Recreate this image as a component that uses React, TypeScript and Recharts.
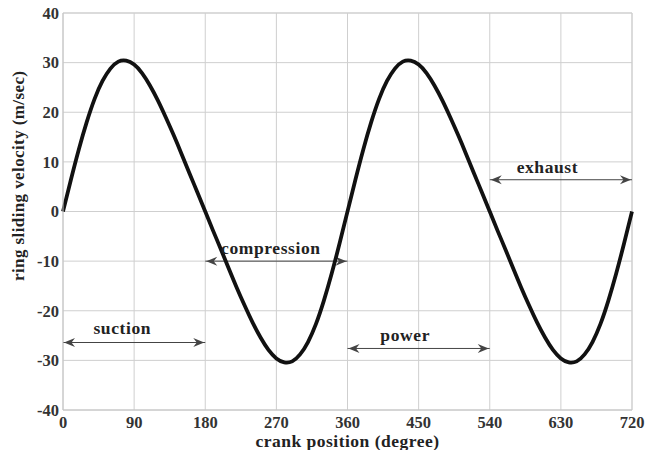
import React from 'react';
import { LineChart, Line, XAxis, YAxis, CartesianGrid, ReferenceLine, ReferenceDot } from 'recharts';

const crankAngles = [
  0, 10, 20, 30, 40, 50, 60, 70, 80, 90, 100, 110, 120, 130, 140, 150, 160, 170, 180,
  190, 200, 210, 220, 230, 240, 250, 260, 270, 280, 290, 300, 310, 320, 330, 340, 350, 360,
  370, 380, 390, 400, 410, 420, 430, 440, 450, 460, 470, 480, 490, 500, 510, 520, 530, 540,
  550, 560, 570, 580, 590, 600, 610, 620, 630, 640, 650, 660, 670, 680, 690, 700, 710, 720,
];

const velocity = [
  0, 6.4, 12.5, 18.0, 22.7, 26.3, 28.8, 30.2, 30.4, 29.6, 27.9, 25.4, 22.4, 19.0, 15.4, 11.6, 7.7, 3.9, 0,
  -3.9, -7.7, -11.6, -15.4, -19.0, -22.4, -25.4, -27.9, -29.6, -30.4, -30.2, -28.8, -26.3, -22.7, -18.0, -12.5, -6.4, 0,
  6.4, 12.5, 18.0, 22.7, 26.3, 28.8, 30.2, 30.4, 29.6, 27.9, 25.4, 22.4, 19.0, 15.4, 11.6, 7.7, 3.9, 0,
  -3.9, -7.7, -11.6, -15.4, -19.0, -22.4, -25.4, -27.9, -29.6, -30.4, -30.2, -28.8, -26.3, -22.7, -18.0, -12.5, -6.4, 0,
];

const xTicks = [0, 90, 180, 270, 360, 450, 540, 630, 720];
const yTicks = [-40, -30, -20, -10, 0, 10, 20, 30, 40];

const strokeNames = ['suction', 'compression', 'power', 'exhaust'];
const strokeStart = [0, 180, 360, 540];
const strokeEnd = [180, 360, 540, 720];
const arrowLevel = [-26.4, -10, -27.6, 6.4];
const labelX = [75, 263, 433, 613];
const labelY = [-23.4, -7.4, -24.8, 9.1];

const data = crankAngles.map((a, i) => ({ angle: a, v: velocity[i] }));

const FONT = '"Liberation Serif", "Times New Roman", serif';
const ARROW = '#444';

const arrowShape = (props: any) => {
  const { x1, y1, x2, y2 } = props;
  const l = Math.min(x1, x2);
  const r = Math.max(x1, x2);
  const y = y1;
  const head = (tip: number, dir: number) =>
    `M${tip},${y} L${tip - dir * 11},${y - 4.5} L${tip - dir * 7.5},${y} L${tip - dir * 11},${y + 4.5} Z`;
  return (
    <g>
      <line x1={l} y1={y} x2={r} y2={y2} stroke={ARROW} strokeWidth={1} />
      <path d={head(l + 1, -1)} fill={ARROW} />
      <path d={head(r - 1, 1)} fill={ARROW} />
    </g>
  );
};

const yLabel = (props: any) => {
  const vb = props.viewBox || {};
  const cx = 19;
  const cy = vb.y + vb.height * 0.41;
  return (
    <text
      x={cx}
      y={cy}
      transform={`rotate(-90, ${cx}, ${cy})`}
      textAnchor="middle"
      dominantBaseline="central"
      fontFamily={FONT}
      fontWeight="bold"
      fontSize={17}
      letterSpacing={0.4}
      fill="#222"
    >
      ring sliding velocity (m/sec)
    </text>
  );
};

export default function App() {
  return (
    <div style={{ position: 'absolute', left: 0, top: 0, width: 647, height: 450, background: '#fff' }}>
      <LineChart width={647} height={450} data={data} margin={{ top: 13, right: 15, bottom: 0, left: 0 }}>
        <CartesianGrid stroke="#cfcfcf" strokeWidth={1} verticalValues={xTicks} horizontalValues={yTicks} />
        <XAxis
          dataKey="angle"
          type="number"
          domain={[0, 720]}
          ticks={xTicks}
          interval={0}
          height={40}
          axisLine={{ stroke: '#c4c4c4' }}
          tickLine={false}
          tickSize={4}
          tick={{ fontFamily: FONT, fontWeight: 'bold', fontSize: 16.5, fill: '#333' }}
          label={{ value: 'crank position (degree)', position: 'insideBottom', offset: 3, fontFamily: FONT, fontWeight: 'bold', fontSize: 17.5, letterSpacing: 0.5, fill: '#222' }}
        />
        <YAxis
          type="number"
          domain={[-40, 40]}
          ticks={yTicks}
          interval={0}
          width={63}
          axisLine={{ stroke: '#c4c4c4' }}
          tickLine={false}
          tickSize={2}
          tick={{ fontFamily: FONT, fontWeight: 'bold', fontSize: 16.5, fill: '#333' }}
          label={{ content: yLabel }}
        />
        <ReferenceLine y={40} stroke="#cfcfcf" />
        <ReferenceLine x={720} stroke="#cfcfcf" />
        {strokeNames.map((n, i) => (
          <ReferenceLine
            key={'a' + n}
            segment={[
              { x: strokeStart[i], y: arrowLevel[i] },
              { x: strokeEnd[i], y: arrowLevel[i] },
            ]}
            shape={arrowShape}
          />
        ))}
        <Line
          type="natural"
          dataKey="v"
          stroke="#111"
          strokeWidth={3.8}
          dot={false}
          isAnimationActive={false}
        />
        {strokeNames.map((n, i) => (
          <ReferenceDot
            key={'l' + n}
            x={labelX[i]}
            y={labelY[i]}
            r={0}
            fill="none"
            stroke="none"
            label={{ value: n, position: 'center', fontFamily: FONT, fontWeight: 'bold', fontSize: 17.5, letterSpacing: 0.6, fill: '#222' }}
          />
        ))}
      </LineChart>
    </div>
  );
}
